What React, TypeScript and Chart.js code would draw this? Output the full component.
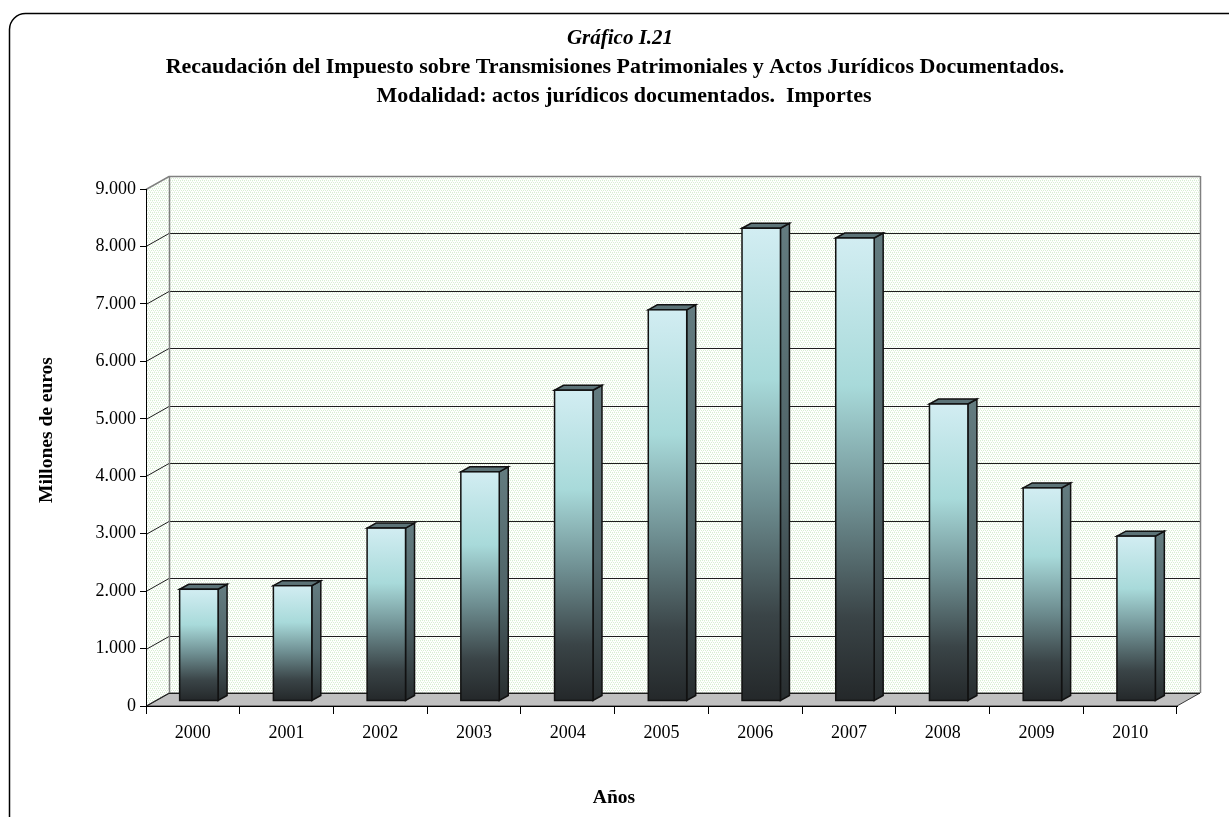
import React, { useEffect, useRef } from 'react';
import { Chart, registerables } from 'chart.js';

Chart.register(...registerables);

const categories = ['2000', '2001', '2002', '2003', '2004', '2005', '2006', '2007', '2008', '2009', '2010'];
const values = [1945, 2007, 3010, 3990, 5410, 6810, 8230, 8060, 5170, 3710, 2870];
const yTickLabels = ['0', '1.000', '2.000', '3.000', '4.000', '5.000', '6.000', '7.000', '8.000', '9.000'];
const titleLines = [
  'Gráfico I.21',
  'Recaudación del Impuesto sobre Transmisiones Patrimoniales y Actos Jurídicos Documentados.',
  'Modalidad: actos jurídicos documentados.  Importes',
];
const yAxisTitle = 'Millones de euros';
const xAxisTitle = 'Años';

const FONT = "'Liberation Serif', 'Times New Roman', serif";
const DX = 23;
const DY = -13;
const BAR_OFF_X = 6;
const BAR_OFF_Y = -5;
const BAR_DX = 9;
const BAR_DY = -5;

function makePattern(ctx: CanvasRenderingContext2D) {
  const c = document.createElement('canvas');
  c.width = 4;
  c.height = 4;
  const p = c.getContext('2d')!;
  p.fillStyle = '#ffffff';
  p.fillRect(0, 0, 4, 4);
  p.fillStyle = '#d8eed2';
  p.fillRect(0, 0, 1, 1);
  p.fillRect(2, 0, 1, 1);
  p.fillRect(1, 2, 1, 1);
  p.fillRect(3, 2, 1, 1);
  p.fillStyle = '#eef7ec';
  p.fillRect(0, 1, 1, 1);
  p.fillRect(2, 3, 1, 1);
  return ctx.createPattern(c, 'repeat')!;
}

const threeD = {
  id: 'threeD',
  beforeDraw(chart: any) {
    const { ctx, chartArea: a } = chart;
    const ys = chart.scales.y;
    ctx.save();
    ctx.fillStyle = '#ffffff';
    ctx.fillRect(0, 0, chart.width, chart.height);

    // outer rounded frame
    ctx.beginPath();
    ctx.roundRect(9.5, 13.5, 1240, 822, 16);
    ctx.strokeStyle = '#000';
    ctx.lineWidth = 1.5;
    ctx.stroke();

    const pat = makePattern(ctx);
    // back wall
    ctx.fillStyle = pat;
    ctx.fillRect(a.left + DX, a.top + DY, a.right - a.left, a.bottom - a.top);
    // left wall
    ctx.beginPath();
    ctx.moveTo(a.left, a.top);
    ctx.lineTo(a.left + DX, a.top + DY);
    ctx.lineTo(a.left + DX, a.bottom + DY);
    ctx.lineTo(a.left, a.bottom);
    ctx.closePath();
    ctx.fill();
    // floor
    ctx.beginPath();
    ctx.moveTo(a.left, a.bottom);
    ctx.lineTo(a.right, a.bottom);
    ctx.lineTo(a.right + DX, a.bottom + DY);
    ctx.lineTo(a.left + DX, a.bottom + DY);
    ctx.closePath();
    ctx.fillStyle = '#c0c0c0';
    ctx.fill();
    ctx.strokeStyle = '#3a3a3a';
    ctx.lineWidth = 1;
    ctx.stroke();

    // gridlines
    ys.ticks.forEach((t: any) => {
      const y = Math.round(ys.getPixelForValue(t.value)) + 0.5;
      const isTop = t.value >= ys.max;
      ctx.beginPath();
      ctx.moveTo(a.left, y);
      ctx.lineTo(a.left + DX, y + DY);
      ctx.lineTo(a.right + DX, y + DY);
      ctx.strokeStyle = isTop ? '#808080' : '#1e1e1e';
      ctx.lineWidth = isTop ? 1.5 : 1;
      ctx.stroke();
    });

    // wall edges
    ctx.beginPath();
    ctx.moveTo(a.left + DX + 0.5, a.top + DY);
    ctx.lineTo(a.left + DX + 0.5, a.bottom + DY);
    ctx.moveTo(a.right + DX + 0.5, a.top + DY);
    ctx.lineTo(a.right + DX + 0.5, a.bottom + DY);
    ctx.strokeStyle = '#808080';
    ctx.lineWidth = 1.5;
    ctx.stroke();
    ctx.restore();
  },
  afterDatasetsDraw(chart: any) {
    const { ctx } = chart;
    const meta = chart.getDatasetMeta(0);
    ctx.save();
    ctx.lineJoin = 'miter';
    meta.data.forEach((el: any) => {
      const { x, y, base, width } = el.getProps(['x', 'y', 'base', 'width'], true);
      const l = x - width / 2 + BAR_OFF_X;
      const r = x + width / 2 + BAR_OFF_X;
      const t = y + BAR_OFF_Y;
      const b = base + BAR_OFF_Y;
      // side face
      const sg = ctx.createLinearGradient(0, t, 0, b);
      sg.addColorStop(0, '#637b7f');
      sg.addColorStop(0.55, '#4e6266');
      sg.addColorStop(1, '#282d2f');
      ctx.beginPath();
      ctx.moveTo(r, t);
      ctx.lineTo(r + BAR_DX, t + BAR_DY);
      ctx.lineTo(r + BAR_DX, b + BAR_DY);
      ctx.lineTo(r, b);
      ctx.closePath();
      ctx.fillStyle = sg;
      ctx.fill();
      ctx.strokeStyle = '#111';
      ctx.lineWidth = 1.5;
      ctx.stroke();
      // top face
      ctx.beginPath();
      ctx.moveTo(l, t);
      ctx.lineTo(l + BAR_DX, t + BAR_DY);
      ctx.lineTo(r + BAR_DX, t + BAR_DY);
      ctx.lineTo(r, t);
      ctx.closePath();
      ctx.fillStyle = '#5c7377';
      ctx.fill();
      ctx.stroke();
      // front face
      const fg = ctx.createLinearGradient(0, t, 0, b);
      fg.addColorStop(0, '#d2edf2');
      fg.addColorStop(0.32, '#a8dada');
      fg.addColorStop(0.58, '#6e8e91');
      fg.addColorStop(0.82, '#3a4447');
      fg.addColorStop(1, '#24282a');
      ctx.fillStyle = fg;
      ctx.fillRect(l, t, r - l, b - t);
      ctx.strokeRect(l, t, r - l, b - t);
    });
    ctx.restore();
  },
  afterDraw(chart: any) {
    const { ctx } = chart;
    ctx.save();
    ctx.fillStyle = '#000';
    ctx.textAlign = 'center';
    ctx.textBaseline = 'alphabetic';
    ctx.font = `italic bold 21px ${FONT}`;
    ctx.fillText(titleLines[0], 620, 44);
    ctx.font = `bold 22px ${FONT}`;
    ctx.fillText(titleLines[1], 615, 73);
    ctx.fillText(titleLines[2], 624, 102);
    // x axis title
    ctx.font = `bold 19.5px ${FONT}`;
    ctx.fillText(xAxisTitle, 614, 803);
    // y axis title
    ctx.translate(52, 430);
    ctx.rotate(-Math.PI / 2);
    ctx.fillText(yAxisTitle, 0, 0);
    ctx.restore();
  },
};

export default function App() {
  const ref = useRef<HTMLCanvasElement>(null);
  useEffect(() => {
    document.body.style.margin = '0';
    Chart.defaults.font.family = FONT;
    Chart.defaults.color = '#000';
    const chart = new Chart(ref.current!, {
      type: 'bar',
      data: {
        labels: categories,
        datasets: [
          {
            data: values,
            backgroundColor: 'rgba(0,0,0,0)',
            borderWidth: 0,
            barPercentage: 0.41,
            categoryPercentage: 1,
          },
        ],
      },
      options: {
        animation: false,
        responsive: false,
        devicePixelRatio: 1,
        layout: { padding: { left: 28, right: 52, top: 189, bottom: 4 } },
        plugins: {
          legend: { display: false },
          tooltip: { enabled: false },
          title: { display: false },
        },
        scales: {
          x: {
            grid: { display: true, drawOnChartArea: false, drawTicks: true, tickLength: 8, color: '#000', offset: true },
            border: { display: true, color: '#000', width: 1 },
            ticks: { color: '#000', font: { size: 18, family: FONT }, padding: 8, maxRotation: 0 },
            afterFit: (s: any) => {
              s.height = 107;
            },
          },
          y: {
            min: 0,
            max: 9000,
            ticks: {
              stepSize: 1000,
              color: '#000',
              font: { size: 18, family: FONT },
              padding: 4,
              callback: (v: any) => yTickLabels[Math.round(Number(v) / 1000)],
            },
            grid: { drawOnChartArea: false, drawTicks: true, tickLength: 6, color: '#000' },
            border: { display: true, color: '#000', width: 1 },
            afterFit: (s: any) => {
              s.width = 118;
            },
          },
        },
      },
      plugins: [threeD],
    });
    return () => chart.destroy();
  }, []);
  return <canvas ref={ref} width={1229} height={817} style={{ display: 'block' }} />;
}
